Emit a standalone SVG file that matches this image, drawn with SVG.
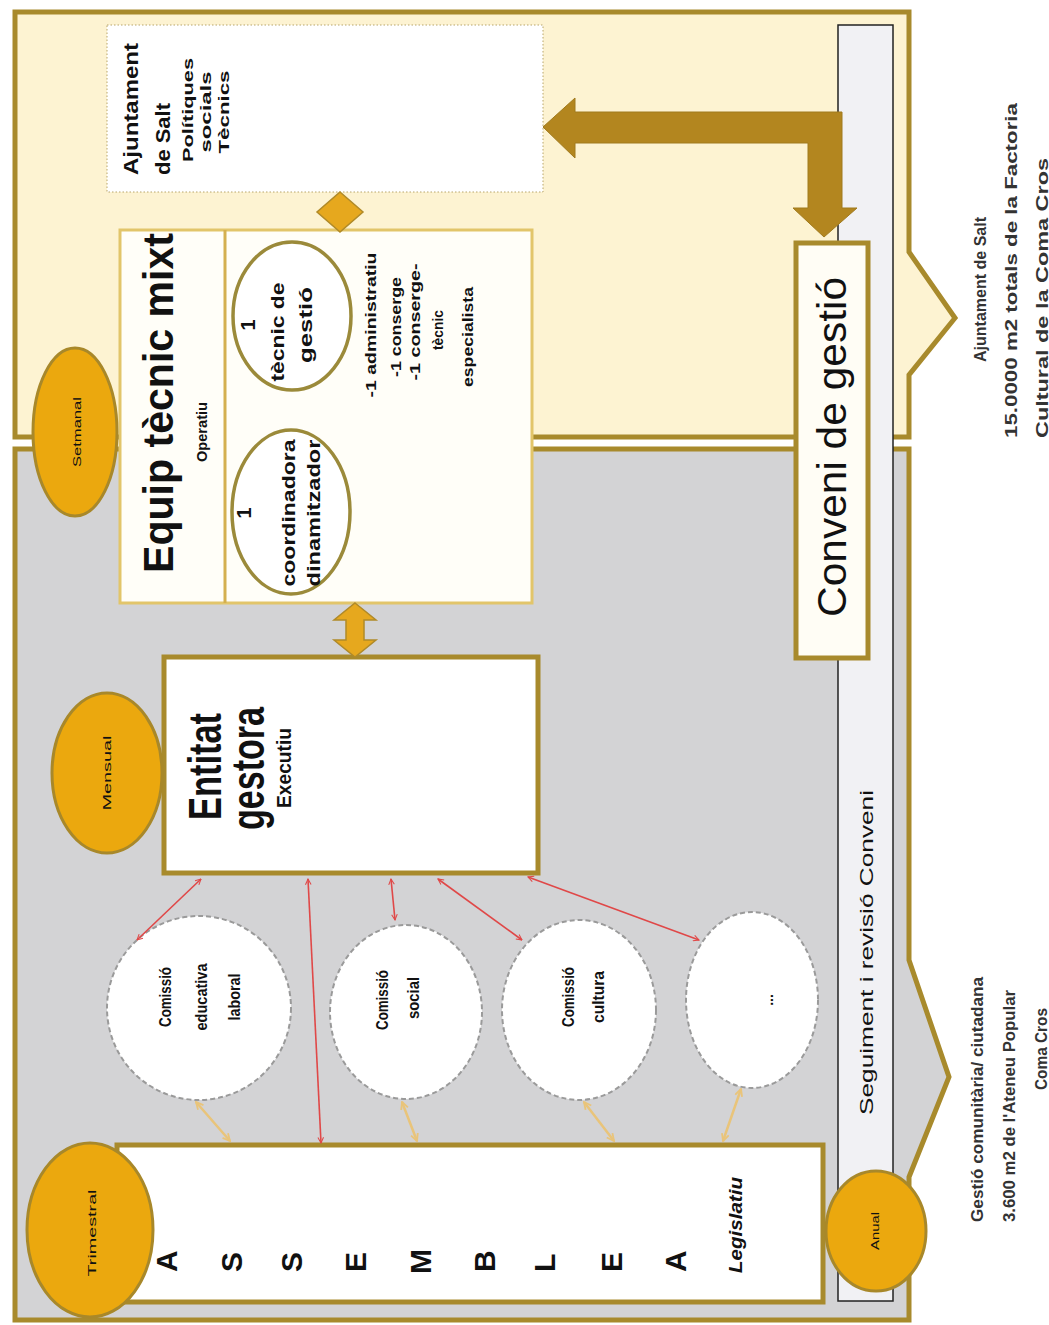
<svg xmlns="http://www.w3.org/2000/svg" width="1049" height="1325" viewBox="0 0 1049 1325">
<defs>
<style>
.t{font-family:"Liberation Sans",Arial,sans-serif;font-weight:bold;fill:#111}
.n{font-family:"Liberation Sans",Arial,sans-serif;font-weight:normal;fill:#111}
.panel{stroke:#a88a2c;stroke-width:5}
.thick{fill:#ffffff;stroke:#a88a2c;stroke-width:5}
.orange{fill:#eba80e;stroke:#a8882a;stroke-width:3}
.comm{fill:#ffffff;stroke:#9a9a9a;stroke-width:2;stroke-dasharray:5 3}
.inner{fill:#ffffff;stroke:#9b8a3a;stroke-width:3.5}
.red{stroke:#e04848;stroke-width:1.6;fill:none;marker-start:url(#rh);marker-end:url(#rh)}
.tan{stroke:#e9c47a;stroke-width:2.5;fill:none;marker-start:url(#th);marker-end:url(#th)}
.gold{fill:#e6a81e;stroke:#b08a28;stroke-width:1.5}
.big{fill:#b3861f;stroke:#a07a1e;stroke-width:1}
.lab{font-family:"Liberation Sans",Arial,sans-serif;font-weight:bold;fill:#333}
</style>
<marker id="rh" viewBox="0 0 10 10" refX="9" refY="5" markerWidth="7" markerHeight="7" orient="auto-start-reverse" markerUnits="userSpaceOnUse">
<path d="M1,1 L9,5 L1,9" fill="none" stroke="#e04848" stroke-width="1.5"/>
</marker>
<marker id="th" viewBox="0 0 10 10" refX="9" refY="5" markerWidth="9" markerHeight="9" orient="auto-start-reverse" markerUnits="userSpaceOnUse">
<path d="M1,1 L9,5 L1,9" fill="none" stroke="#e9c47a" stroke-width="2"/>
</marker>
</defs>
<rect x="0" y="0" width="1049" height="1325" fill="#ffffff"/>

<g id="panel-ajuntament">
<path class="panel" fill="#fdf3d2" d="M15,12 H909 V252 L955,318 L909,375 V437 H15 Z"/>
</g>
<g id="panel-comunitaria">
<path class="panel" fill="#d3d3d5" d="M15,449 H909 V960 L949,1077 L909,1177 V1320 H15 Z"/>
</g>

<g id="seguiment">
<rect x="838" y="25" width="55" height="1276" fill="#f1f1f4" stroke="#222" stroke-width="1.5"/>
<text class="n" font-size="18" fill="#222" transform="translate(873,1115) rotate(-90)" textLength="325" lengthAdjust="spacingAndGlyphs">Seguiment i revisió Conveni</text>
</g>

<g id="ajuntament">
<rect x="107" y="25" width="436" height="167" fill="#ffffff" stroke="#b8a56a" stroke-width="1" stroke-dasharray="1.5 2"/>
<text class="t" font-size="21" transform="translate(138,175) rotate(-90)" textLength="132" lengthAdjust="spacingAndGlyphs">Ajuntament</text>
<text class="t" font-size="21" transform="translate(170,175) rotate(-90)" textLength="72" lengthAdjust="spacingAndGlyphs">de Salt</text>
<text class="t" font-size="15" text-anchor="middle" transform="translate(193,110) rotate(-90)" textLength="104" lengthAdjust="spacingAndGlyphs">Polítiques</text>
<text class="t" font-size="15" text-anchor="middle" transform="translate(211,112) rotate(-90)" textLength="81" lengthAdjust="spacingAndGlyphs">socials</text>
<text class="t" font-size="15" text-anchor="middle" transform="translate(229,112) rotate(-90)" textLength="83" lengthAdjust="spacingAndGlyphs">Tècnics</text>
</g>

<g id="equip-tecnic">
<rect x="120" y="230" width="412" height="373" fill="#fffef8" stroke="#e2c56a" stroke-width="3"/>
<line x1="225" y1="230" x2="225" y2="603" stroke="#d4b050" stroke-width="3"/>
<text class="t" font-size="42" transform="translate(173,573) rotate(-90)" textLength="340" lengthAdjust="spacingAndGlyphs">Equip tècnic mixt</text>
<text class="t" font-size="15" transform="translate(207,462) rotate(-90)" textLength="60" lengthAdjust="spacingAndGlyphs">Operatiu</text>
<g id="coordinadora">
<ellipse class="inner" cx="291" cy="512" rx="59" ry="82"/>
<text class="t" font-size="20" text-anchor="middle" transform="translate(251,513) rotate(-90)">1</text>
<text class="t" font-size="18" text-anchor="middle" transform="translate(295,513) rotate(-90)" textLength="147" lengthAdjust="spacingAndGlyphs">coordinadora</text>
<text class="t" font-size="18" text-anchor="middle" transform="translate(320,513) rotate(-90)" textLength="147" lengthAdjust="spacingAndGlyphs">dinamitzador</text>
</g>
<g id="tecnic-gestio">
<ellipse class="inner" cx="292" cy="316" rx="59" ry="74"/>
<text class="t" font-size="20" text-anchor="middle" transform="translate(255,325) rotate(-90)">1</text>
<text class="t" font-size="18" text-anchor="middle" transform="translate(284,332) rotate(-90)" textLength="99" lengthAdjust="spacingAndGlyphs">tècnic de</text>
<text class="t" font-size="18" text-anchor="middle" transform="translate(312,325) rotate(-90)" textLength="76" lengthAdjust="spacingAndGlyphs">gestió</text>
</g>
<text class="t" font-size="15" text-anchor="middle" transform="translate(376,325) rotate(-90)" textLength="145" lengthAdjust="spacingAndGlyphs">-1 administratiu</text>
<text class="t" font-size="15" text-anchor="middle" transform="translate(401,327) rotate(-90)" textLength="100" lengthAdjust="spacingAndGlyphs">-1 conserge</text>
<text class="t" font-size="15" text-anchor="middle" transform="translate(420,322) rotate(-90)" textLength="117" lengthAdjust="spacingAndGlyphs">-1 conserge-</text>
<text class="t" font-size="15" text-anchor="middle" transform="translate(443,330) rotate(-90)" textLength="40" lengthAdjust="spacingAndGlyphs">tècnic</text>
<text class="t" font-size="15" text-anchor="middle" transform="translate(473,337) rotate(-90)" textLength="100" lengthAdjust="spacingAndGlyphs">especialista</text>
</g>

<g id="entitat-gestora">
<rect class="thick" x="164" y="657" width="374" height="216"/>
<text class="t" font-size="46" transform="translate(221,820) rotate(-90)" textLength="107" lengthAdjust="spacingAndGlyphs">Entitat</text>
<text class="t" font-size="46" transform="translate(264,830) rotate(-90)" textLength="123" lengthAdjust="spacingAndGlyphs">gestora</text>
<text class="t" font-size="20" transform="translate(291,808) rotate(-90)" textLength="80" lengthAdjust="spacingAndGlyphs">Executiu</text>
</g>

<g id="assemblea">
<rect class="thick" x="117" y="1145" width="706" height="157"/>
<g class="t" font-size="30">
<text transform="translate(177,1272) rotate(-90)">A</text>
<text transform="translate(242,1272) rotate(-90)">S</text>
<text transform="translate(302,1272) rotate(-90)">S</text>
<text transform="translate(366,1272) rotate(-90)">E</text>
<text transform="translate(431,1274) rotate(-90)">M</text>
<text transform="translate(495,1272) rotate(-90)">B</text>
<text transform="translate(555,1272) rotate(-90)">L</text>
<text transform="translate(622,1272) rotate(-90)">E</text>
<text transform="translate(686,1272) rotate(-90)">A</text>
</g>
<text class="t" font-size="18" font-style="italic" transform="translate(742,1273) rotate(-90)" textLength="96" lengthAdjust="spacingAndGlyphs">Legislatiu</text>
</g>

<g id="comissio-educativa">
<ellipse class="comm" cx="199" cy="1008" rx="92" ry="92"/>
<text class="t" font-size="16" text-anchor="middle" transform="translate(171,997) rotate(-90)" textLength="60" lengthAdjust="spacingAndGlyphs">Comissió</text>
<text class="t" font-size="16" text-anchor="middle" transform="translate(207,997) rotate(-90)" textLength="67" lengthAdjust="spacingAndGlyphs">educativa</text>
<text class="t" font-size="16" text-anchor="middle" transform="translate(240,997) rotate(-90)" textLength="47" lengthAdjust="spacingAndGlyphs">laboral</text>
</g>
<g id="comissio-social">
<ellipse class="comm" cx="406" cy="1012" rx="76" ry="87"/>
<text class="t" font-size="16" text-anchor="middle" transform="translate(388,1000) rotate(-90)" textLength="60" lengthAdjust="spacingAndGlyphs">Comissió</text>
<text class="t" font-size="16" text-anchor="middle" transform="translate(419,998) rotate(-90)" textLength="42" lengthAdjust="spacingAndGlyphs">social</text>
</g>
<g id="comissio-cultura">
<ellipse class="comm" cx="579" cy="1010" rx="77" ry="90"/>
<text class="t" font-size="16" text-anchor="middle" transform="translate(574,997) rotate(-90)" textLength="60" lengthAdjust="spacingAndGlyphs">Comissió</text>
<text class="t" font-size="16" text-anchor="middle" transform="translate(604,997) rotate(-90)" textLength="52" lengthAdjust="spacingAndGlyphs">cultura</text>
</g>
<g id="comissio-altres">
<ellipse class="comm" cx="752" cy="1000" rx="66" ry="88"/>
<text class="t" font-size="14" text-anchor="middle" transform="translate(773,1000) rotate(-90)">...</text>
</g>

<g id="connectors">
<path class="big" d="M543,127 L575,98 L575,112 L842,112 L842,208 L857,208 L824,237 L793,208 L808,208 L808,143 L575,143 L575,158 Z"/>
<polygon class="gold" points="340,192 363,212 340,232 317,212"/>
<polygon class="gold" points="355,603 376,620 364,620 364,640 376,640 355,657 334,640 346,640 346,620 334,620"/>
<line class="red" x1="201" y1="879" x2="137" y2="940"/>
<line class="red" x1="308" y1="879" x2="321" y2="1143"/>
<line class="red" x1="391" y1="879" x2="395" y2="920"/>
<line class="red" x1="438" y1="879" x2="522" y2="940"/>
<line class="red" x1="528" y1="877" x2="699" y2="940"/>
<line class="tan" x1="196" y1="1102" x2="230" y2="1141"/>
<line class="tan" x1="402" y1="1102" x2="417" y2="1141"/>
<line class="tan" x1="584" y1="1102" x2="614" y2="1141"/>
<line class="tan" x1="741" y1="1089" x2="723" y2="1141"/>
</g>

<g id="conveni">
<rect x="796" y="243" width="72" height="415" fill="#fffdf5" stroke="#a88a2c" stroke-width="5"/>
<text class="n" font-size="40" fill="#7a6828" transform="translate(846,617) rotate(-90)" textLength="340" lengthAdjust="spacingAndGlyphs">Conveni de gestió</text>
</g>

<g id="freq-setmanal">
<ellipse class="orange" cx="75" cy="432" rx="42" ry="84"/>
<text class="n" font-size="11" fill="#222" text-anchor="middle" transform="translate(81,432) rotate(-90)" textLength="70" lengthAdjust="spacingAndGlyphs">Setmanal</text>
</g>
<g id="freq-mensual">
<ellipse class="orange" cx="107" cy="773" rx="55" ry="80"/>
<text class="n" font-size="11" fill="#222" text-anchor="middle" transform="translate(111,773) rotate(-90)" textLength="75" lengthAdjust="spacingAndGlyphs">Mensual</text>
</g>
<g id="freq-trimestral">
<ellipse class="orange" cx="90" cy="1230" rx="63" ry="87"/>
<text class="n" font-size="11" fill="#222" text-anchor="middle" transform="translate(96,1233) rotate(-90)" textLength="87" lengthAdjust="spacingAndGlyphs">Trimestral</text>
</g>
<g id="freq-anual">
<ellipse class="orange" cx="876" cy="1231" rx="50" ry="60"/>
<text class="n" font-size="11" fill="#222" text-anchor="middle" transform="translate(879,1231) rotate(-90)" textLength="38" lengthAdjust="spacingAndGlyphs">Anual</text>
</g>

<g id="label-ajuntament">
<text class="lab" font-size="16" transform="translate(986,362) rotate(-90)" textLength="145" lengthAdjust="spacingAndGlyphs">Ajuntament de Salt</text>
<text class="lab" font-size="16" transform="translate(1017,438) rotate(-90)" textLength="335" lengthAdjust="spacingAndGlyphs">15.0000 m2 totals de la Factoria</text>
<text class="lab" font-size="16" transform="translate(1048,438) rotate(-90)" textLength="280" lengthAdjust="spacingAndGlyphs">Cultural de la Coma Cros</text>
</g>
<g id="label-comunitaria">
<text class="lab" font-size="16" transform="translate(983,1222) rotate(-90)" textLength="245" lengthAdjust="spacingAndGlyphs">Gestió comunitària/ ciutadana</text>
<text class="lab" font-size="16" transform="translate(1015,1222) rotate(-90)" textLength="232" lengthAdjust="spacingAndGlyphs">3.600 m2 de l'Ateneu Popular</text>
<text class="lab" font-size="16" transform="translate(1047,1090) rotate(-90)" textLength="82" lengthAdjust="spacingAndGlyphs">Coma Cros</text>
</g>
</svg>
